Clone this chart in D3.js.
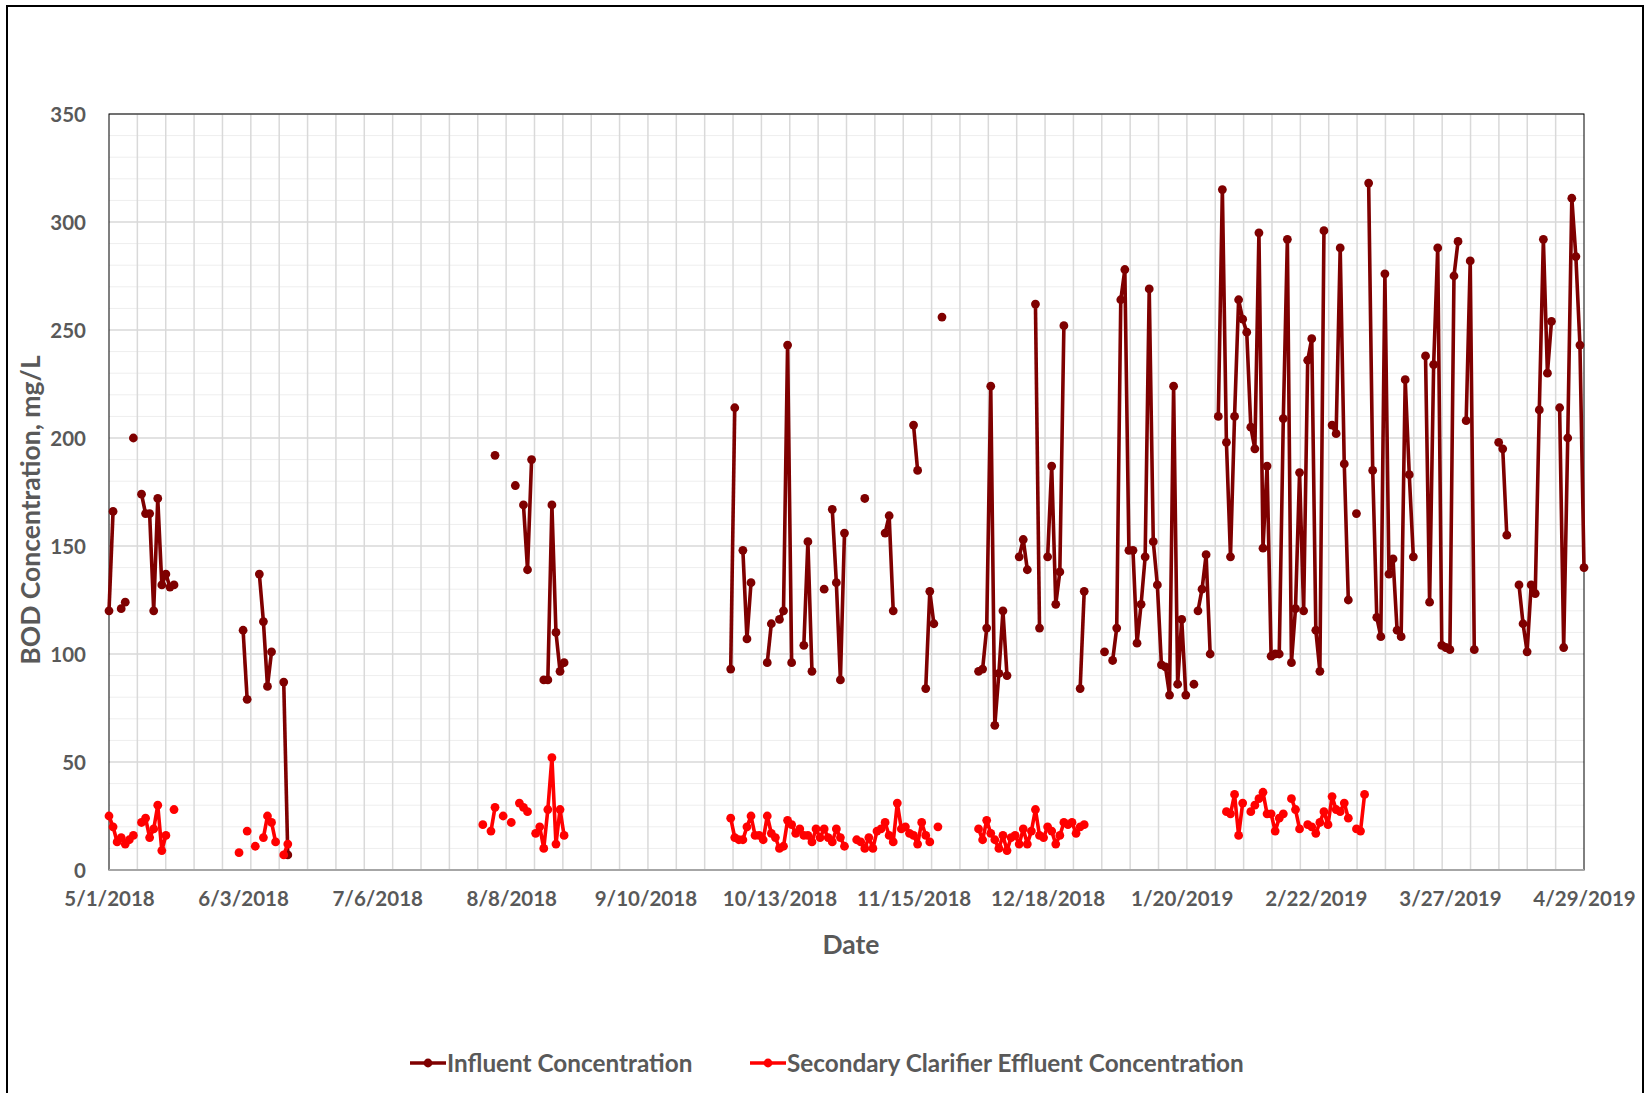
<!DOCTYPE html>
<html>
<head>
<meta charset="utf-8">
<script src="https://cdn.jsdelivr.net/npm/d3@7"></script>
<style>
  body { margin: 0; background: #fff; }
  text { font-family: Lato, "Open Sans", sans-serif; font-weight: bold; fill: #595959; }
</style>
</head>
<body>
<svg id="chart" width="1649" height="1093"></svg>
<script>
// runs of consecutive daily samples: [first date, values]; a new run = blank cell before it
var influentRuns = [
  ["2018-05-01", [120, 166]],
  ["2018-05-04", [121, 124]],
  ["2018-05-07", [200]],
  ["2018-05-09", [174, 165, 165, 120, 172, 132, 137, 131, 132]],
  ["2018-06-03", [111, 79]],
  ["2018-06-07", [137, 115, 85, 101]],
  ["2018-06-13", [87, 7]],
  ["2018-08-04", [192]],
  ["2018-08-09", [178]],
  ["2018-08-11", [169, 139, 190]],
  ["2018-08-16", [88, 88, 169, 110, 92, 96]],
  ["2018-10-01", [93, 214]],
  ["2018-10-04", [148, 107, 133]],
  ["2018-10-10", [96, 114]],
  ["2018-10-13", [116, 120, 243, 96]],
  ["2018-10-19", [104, 152, 92]],
  ["2018-10-24", [130]],
  ["2018-10-26", [167, 133, 88, 156]],
  ["2018-11-03", [172]],
  ["2018-11-08", [156, 164, 120]],
  ["2018-11-15", [206, 185]],
  ["2018-11-18", [84, 129, 114]],
  ["2018-11-22", [256]],
  ["2018-12-01", [92, 93, 112, 224, 67, 91, 120, 90]],
  ["2018-12-11", [145, 153, 139]],
  ["2018-12-15", [262, 112]],
  ["2018-12-18", [145, 187, 123, 138, 252]],
  ["2018-12-26", [84, 129]],
  ["2019-01-01", [101]],
  ["2019-01-03", [97, 112, 264, 278, 148, 148, 105, 123, 145, 269, 152, 132, 95, 94, 81, 224, 86, 116, 81]],
  ["2019-01-23", [86]],
  ["2019-01-24", [120, 130, 146, 100]],
  ["2019-01-29", [210, 315, 198, 145, 210, 264, 255, 249, 205, 195, 295, 149, 187, 99, 100, 100, 209, 292, 96, 121, 184, 120, 236, 246, 111, 92, 296]],
  ["2019-02-26", [206, 202, 288, 188, 125]],
  ["2019-03-04", [165]],
  ["2019-03-07", [318, 185, 117, 108, 276, 137, 144, 111, 108, 227, 183, 145]],
  ["2019-03-21", [238, 124, 234, 288, 104, 103, 102, 275, 291]],
  ["2019-03-31", [208, 282, 102]],
  ["2019-04-08", [198, 195, 155]],
  ["2019-04-13", [132, 114, 101, 132, 128, 213, 292, 230, 254]],
  ["2019-04-23", [214, 103, 200, 311, 284, 243, 140]]
];

var effluentRuns = [
  ["2018-05-01", [25, 20, 13, 15, 12, 14, 16]],
  ["2018-05-09", [22, 24, 15, 19, 30, 9, 16]],
  ["2018-05-17", [28]],
  ["2018-06-02", [8]],
  ["2018-06-04", [18]],
  ["2018-06-06", [11]],
  ["2018-06-08", [15, 25, 22, 13]],
  ["2018-06-13", [7, 12]],
  ["2018-08-01", [21]],
  ["2018-08-03", [18, 29]],
  ["2018-08-06", [25]],
  ["2018-08-08", [22]],
  ["2018-08-10", [31, 29, 27]],
  ["2018-08-14", [17, 20, 10, 28, 52, 12, 28, 16]],
  ["2018-10-01", [24, 15, 14, 14, 20, 25, 16, 16, 14, 25, 17, 15, 10, 11, 23, 21, 17, 19, 16, 16, 13, 19, 15, 19, 15, 13, 19, 15, 11]],
  ["2018-11-01", [14, 13, 10, 15, 10, 18, 19, 22, 16, 13, 31, 19, 20, 17, 16, 12, 22, 16, 13]],
  ["2018-11-21", [20]],
  ["2018-12-01", [19, 14, 23, 17, 14, 10, 16, 9, 15, 16, 12, 19, 12, 18, 28, 16, 15, 20, 18, 12, 16, 22, 21, 22, 17, 20, 21]],
  ["2019-01-31", [27, 26, 35, 16, 31]],
  ["2019-02-06", [27, 30, 33, 36, 26, 26, 18, 24, 26]],
  ["2019-02-16", [33, 28, 19]],
  ["2019-02-20", [21, 20, 17, 22, 27, 21, 34, 28, 27, 31, 24]],
  ["2019-03-04", [19, 18, 35]]
];

var xTickLabels = ["5/1/2018", "6/3/2018", "7/6/2018", "8/8/2018", "9/10/2018", "10/13/2018",
  "11/15/2018", "12/18/2018", "1/20/2019", "2/22/2019", "3/27/2019", "4/29/2019"];
var yTicks = [0, 50, 100, 150, 200, 250, 300, 350];
var seriesNames = ["Influent Concentration", "Secondary Clarifier Effluent Concentration"];
var seriesColors = ["#7f0000", "#ff0000"];

var svg = d3.select("#chart");
var margin = {top: 114, right: 65, bottom: 223, left: 109},
    width = 1649 - margin.left - margin.right,
    height = 1093 - margin.top - margin.bottom;

var parseDay = d3.utcParse("%Y-%m-%d"),
    parseTick = d3.utcParse("%m/%d/%Y");

// outer chart border
svg.append("rect")
  .attr("x", 7).attr("y", 6)
  .attr("width", 1636).attr("height", 1120)
  .attr("fill", "#fff").attr("stroke", "#000").attr("stroke-width", 2);

var chart = svg.append("g")
  .attr("transform", "translate(" + margin.left + "," + margin.top + ")");

var tickDates = xTickLabels.map(function (s) { return parseTick(s); });
var x = d3.scaleUtc()
  .domain([tickDates[0], tickDates[tickDates.length - 1]])
  .range([0, width]);
var y = d3.scaleLinear().domain([0, 350]).range([height, 0]);

// minor horizontal gridlines
chart.append("g").selectAll("line")
  .data(d3.range(0, 351, 10).filter(function (v) { return v % 50 !== 0; }))
  .join("line")
  .attr("x1", 0).attr("x2", width)
  .attr("y1", function (d) { return y(d); }).attr("y2", function (d) { return y(d); })
  .attr("stroke", "#eeeeee").attr("stroke-width", 1);

// vertical gridlines (52 minor divisions across the date span)
var xMin = tickDates[0].getTime(), xMax = tickDates[tickDates.length - 1].getTime();
chart.append("g").selectAll("line")
  .data(d3.range(1, 52).map(function (k) { return new Date(xMin + k * (xMax - xMin) / 52); }))
  .join("line")
  .attr("x1", function (d) { return x(d); }).attr("x2", function (d) { return x(d); })
  .attr("y1", 0).attr("y2", height)
  .attr("stroke", "#d9d9d9").attr("stroke-width", 1.5);

// major horizontal gridlines
chart.append("g").selectAll("line")
  .data(yTicks)
  .join("line")
  .attr("x1", 0).attr("x2", width)
  .attr("y1", function (d) { return y(d); }).attr("y2", function (d) { return y(d); })
  .attr("stroke", "#d9d9d9").attr("stroke-width", 1.5);

// plot area border
chart.append("rect")
  .attr("width", width).attr("height", height)
  .attr("fill", "none").attr("stroke", "#000").attr("stroke-width", 1);

chart.append("line")
  .attr("x1", 0).attr("x2", width).attr("y1", height).attr("y2", height)
  .attr("stroke", "#a6a6a6").attr("stroke-width", 2);

// axes
var yAxis = d3.axisLeft(y).tickValues(yTicks).tickSize(0).tickPadding(23);
chart.append("g").call(yAxis)
  .call(function (g) { g.select(".domain").remove(); })
  .selectAll("text").style("font-size", "20.5px").attr("dy", "0.35em");

var xAxis = d3.axisBottom(x).tickValues(tickDates).tickSize(0).tickPadding(21)
  .tickFormat(function (d, i) { return xTickLabels[i]; });
chart.append("g").attr("transform", "translate(0," + height + ")").call(xAxis)
  .call(function (g) { g.select(".domain").remove(); })
  .selectAll("text").style("font-size", "20.5px");

svg.append("text")
  .attr("transform", "translate(31," + 510 + ") rotate(-90)")
  .attr("text-anchor", "middle").attr("dy", "0.35em")
  .style("font-size", "26.5px")
  .text("BOD Concentration, mg/L");

svg.append("text")
  .attr("x", 851).attr("y", 945)
  .attr("text-anchor", "middle").attr("dy", "0.35em")
  .style("font-size", "26.5px")
  .text("Date");

// series
function expand(runs) {
  return runs.map(function (r) {
    var start = parseDay(r[0]);
    return r[1].map(function (v, i) { return {date: d3.utcDay.offset(start, i), value: v}; });
  });
}

var line = d3.line()
  .x(function (d) { return x(d.date); })
  .y(function (d) { return y(d.value); });

[influentRuns, effluentRuns].forEach(function (runs, si) {
  var segs = expand(runs);
  var g = chart.append("g");
  g.selectAll("path")
    .data(segs.filter(function (s) { return s.length > 1; }))
    .join("path")
    .attr("d", line)
    .attr("fill", "none")
    .attr("stroke", seriesColors[si])
    .attr("stroke-width", 3.6)
    .attr("stroke-linejoin", "round");
  g.selectAll("circle")
    .data(segs.flat())
    .join("circle")
    .attr("cx", function (d) { return x(d.date); })
    .attr("cy", function (d) { return y(d.value); })
    .attr("r", 4.4)
    .attr("fill", seriesColors[si]);
});

// legend
var legendX = [410, 750];
var legend = svg.append("g").attr("transform", "translate(0,1063)");
seriesNames.forEach(function (name, i) {
  var lg = legend.append("g").attr("transform", "translate(" + legendX[i] + ",0)");
  lg.append("line").attr("x1", 0).attr("x2", 36).attr("y1", 0).attr("y2", 0)
    .attr("stroke", seriesColors[i]).attr("stroke-width", 3.6);
  lg.append("circle").attr("cx", 18).attr("cy", 0).attr("r", 4.4).attr("fill", seriesColors[i]);
  lg.append("text").attr("x", 37).attr("dy", "0.35em")
    .style("font-size", "24.3px").text(name);
});
</script>
</body>
</html>
